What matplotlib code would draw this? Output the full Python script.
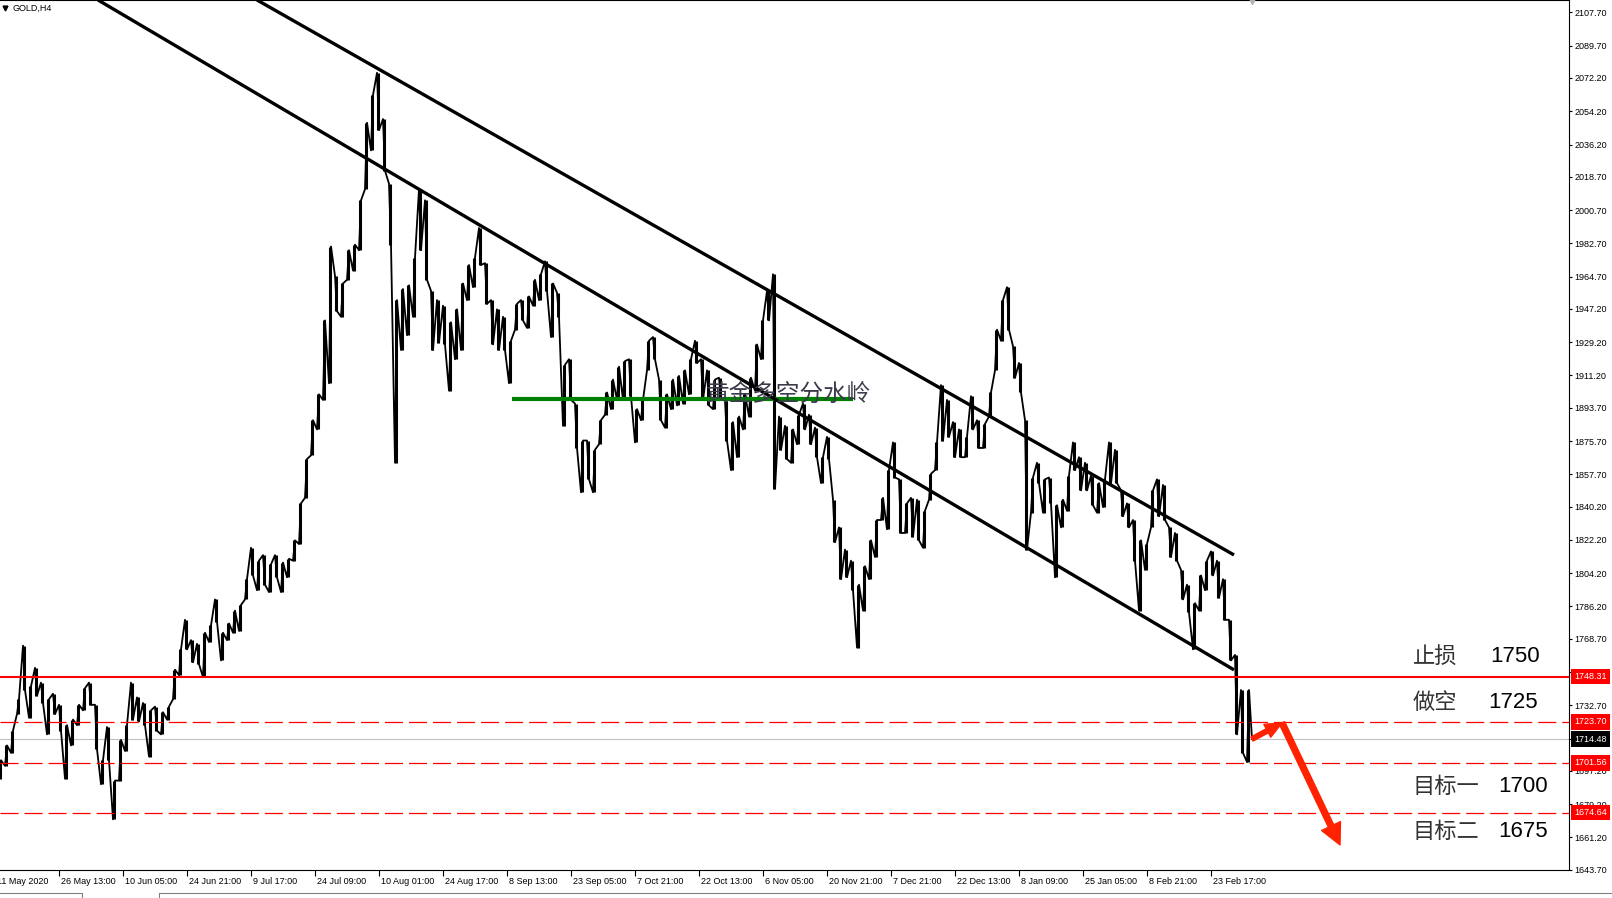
import numpy as np
import matplotlib.pyplot as plt
import matplotlib.transforms as mtransforms
from matplotlib.lines import Line2D
from matplotlib.patches import FancyArrowPatch

plt.rcParams['font.family'] = ['Liberation Sans', 'Noto Sans CJK SC', 'DejaVu Sans']
plt.rcParams['lines.scale_dashes'] = False

# GOLD, H4 - one sample per trading day (6 four-hour bars), high / low
BARS_PER_SAMPLE = 6
highs = [1703, 1711, 1719, 1736, 1765, 1743, 1753, 1745, 1736, 1739,
         1733, 1722, 1725, 1733, 1742, 1745, 1733, 1703, 1721, 1692,
         1714, 1722, 1745, 1737, 1734, 1730, 1732, 1729, 1732, 1752,
         1763, 1779, 1768, 1766, 1772, 1776, 1790, 1772, 1777, 1784,
         1787, 1801, 1818, 1811, 1814, 1809, 1814, 1810, 1812, 1822,
         1842, 1866, 1887, 1901, 1941, 1981, 1965, 1961, 1979, 1982,
         2006, 2048, 2063, 2075, 2050, 2015, 1952, 1958, 1960, 1975,
         2012, 2006, 1957, 1952, 1949, 1940, 1947, 1961, 1971, 1975,
         1991, 1972, 1952, 1947, 1943, 1930, 1950, 1952, 1954, 1963,
         1966, 1973, 1961, 1956, 1917, 1920, 1896, 1876, 1876, 1871,
         1887, 1902, 1909, 1916, 1919, 1920, 1893, 1898, 1930, 1932,
         1909, 1901, 1909, 1911, 1914, 1920, 1930, 1920, 1914, 1909,
         1910, 1898, 1886, 1889, 1901, 1910, 1928, 1941, 1957, 1966,
         1889, 1884, 1882, 1890, 1896, 1890, 1883, 1867, 1878, 1844,
         1829, 1817, 1811, 1798, 1808, 1822, 1833, 1845, 1860, 1875,
         1855, 1842, 1845, 1844, 1838, 1858, 1875, 1906, 1898, 1886,
         1882, 1878, 1900, 1887, 1885, 1902, 1936, 1952, 1959, 1927,
         1918, 1887, 1856, 1864, 1855, 1856, 1841, 1844, 1857, 1875,
         1867, 1864, 1857, 1853, 1855, 1875, 1871, 1849, 1842, 1833,
         1822, 1820, 1849, 1855, 1852, 1829, 1826, 1806, 1798, 1788,
         1803, 1811, 1816, 1811, 1801, 1779, 1760, 1741, 1741]
lows = [1693, 1700, 1707, 1728, 1741, 1726, 1738, 1734, 1717, 1728,
        1719, 1693, 1711, 1722, 1730, 1733, 1709, 1690, 1703, 1671,
        1692, 1708, 1725, 1724, 1722, 1705, 1719, 1717, 1725, 1736,
        1749, 1763, 1756, 1755, 1748, 1767, 1778, 1757, 1768, 1772,
        1773, 1790, 1803, 1795, 1798, 1794, 1802, 1794, 1802, 1811,
        1820, 1845, 1868, 1882, 1898, 1907, 1946, 1943, 1963, 1968,
        1979, 2012, 2033, 2044, 2022, 1982, 1864, 1925, 1933, 1943,
        1979, 1963, 1925, 1929, 1928, 1903, 1920, 1925, 1952, 1959,
        1971, 1950, 1928, 1925, 1925, 1907, 1936, 1941, 1937, 1949,
        1952, 1957, 1932, 1943, 1884, 1898, 1872, 1848, 1855, 1848,
        1874, 1890, 1893, 1898, 1898, 1900, 1875, 1887, 1914, 1920,
        1887, 1883, 1893, 1895, 1896, 1901, 1918, 1898, 1895, 1893,
        1898, 1876, 1860, 1867, 1882, 1889, 1903, 1920, 1941, 1850,
        1871, 1866, 1864, 1874, 1882, 1874, 1867, 1853, 1866, 1821,
        1801, 1802, 1795, 1764, 1784, 1801, 1813, 1833, 1828, 1856,
        1826, 1826, 1824, 1822, 1818, 1844, 1860, 1876, 1878, 1867,
        1867, 1867, 1882, 1872, 1872, 1889, 1914, 1930, 1936, 1910,
        1902, 1817, 1837, 1853, 1837, 1842, 1802, 1829, 1838, 1860,
        1849, 1849, 1841, 1837, 1840, 1853, 1853, 1835, 1829, 1811,
        1784, 1806, 1829, 1835, 1833, 1813, 1811, 1790, 1783, 1763,
        1784, 1795, 1803, 1791, 1779, 1757, 1717, 1707, 1702]
last_bar = 1252
last_close = 1714.48

date_labels = ['11 May 2020', '26 May 13:00', '10 Jun 05:00', '24 Jun 21:00', '9 Jul 17:00',
               '24 Jul 09:00', '10 Aug 01:00', '24 Aug 17:00', '8 Sep 13:00', '23 Sep 05:00',
               '7 Oct 21:00', '22 Oct 13:00', '6 Nov 05:00', '20 Nov 21:00', '7 Dec 21:00',
               '22 Dec 13:00', '8 Jan 09:00', '25 Jan 05:00', '8 Feb 21:00', '23 Feb 17:00']
LABEL_STEP = 64
FIRST_LABEL_BAR = -5

price_ticks = [2107.70, 2089.70, 2072.20, 2054.20, 2036.20, 2018.70, 2000.70, 1982.70,
               1964.70, 1947.20, 1929.20, 1911.20, 1893.70, 1875.70, 1857.70, 1840.20,
               1822.20, 1804.20, 1786.20, 1768.70, 1750.70, 1732.70, 1714.70, 1697.20,
               1679.20, 1661.20, 1643.70]
hidden_ticks = [1750.70, 1714.70]   # covered by the price tags

stop_loss = 1748.31
entry = 1723.70
target1 = 1701.56
target2 = 1674.64
watershed = 1898.4
watershed_bars = (512, 853)

channel_lower = ([98, 1234], [2114.4, 1751.9])
channel_upper = ([257, 1234], [2114.4, 1814.1])

arrow_bars = [1252, 1282, 1340]
arrow_prices = [1714.48, 1723.2, 1657.2]

notes = [('止损', '1750', 1759.0, 1490), ('做空', '1725', 1734.0, 1488),
         ('目标一', '1700', 1688.6, 1498), ('目标二', '1675', 1664.2, 1498)]

W, H = 1612, 898
fig = plt.figure(figsize=(W / 100, H / 100), dpi=100)
ax = fig.add_axes([0, 28 / H, 1569 / W, 870 / H])
ax.set_xlim(0, 1569)
ax.set_ylim(1643.6, 2114.4)

# price trace: daily range bars joined by a zigzag
xs = np.arange(len(highs)) * BARS_PER_SAMPLE
mid = (np.array(highs) + np.array(lows)) / 2
px, py = [], []
for i in range(len(highs)):
    going_up = i == len(highs) - 1 or mid[i + 1] >= mid[i]
    px += [xs[i] - 1, xs[i] + 1]
    py += [lows[i], highs[i]] if going_up else [highs[i], lows[i]]
px.append(last_bar)
py.append(last_close)
ax.vlines(xs, lows, highs, color='black', lw=2.2, zorder=2)
ax.plot(px, py, color='black', lw=1.3, zorder=2)

# levels
ax.axhline(last_close, color='#c0c0c0', lw=0.8, zorder=1)
ax.axhline(stop_loss, color='#ff0000', lw=1.5, zorder=3)
for lvl in (entry, target1, target2):
    ax.axhline(lvl, color='#ff0000', lw=0.9, dashes=(13, 4.3), zorder=3)
ax.plot(watershed_bars, [watershed, watershed], color='#008000', lw=3, zorder=3,
        solid_capstyle='butt')

# channel
ax.plot(*channel_lower, color='black', lw=2.4, zorder=4, solid_capstyle='butt')
ax.plot(*channel_upper, color='black', lw=2.4, zorder=4, solid_capstyle='butt')

ax.text(706, 1901, '黄金多空分水岭', fontsize=17, color='#3a3a4a', va='center',
        family=['Noto Sans CJK SC'], fontweight='light', zorder=5)

for cjk, num, y, xnum in notes:
    ax.text(1413, y, cjk, fontsize=16, color='#333333', va='center',
            family=['Noto Sans CJK SC'], fontweight='light', zorder=5)
    ax.text(xnum, y, num, fontsize=16, color='black', va='center', zorder=5)

# red arrows
arrow_col = '#ff2200'
a1 = FancyArrowPatch((arrow_bars[0], arrow_prices[0]), (arrow_bars[1], arrow_prices[1]),
                     arrowstyle='simple,head_length=0.8,head_width=0.7,tail_width=0.22',
                     mutation_scale=15, color=arrow_col, shrinkA=0, shrinkB=0, zorder=6)
a2 = FancyArrowPatch((arrow_bars[1], arrow_prices[1]), (arrow_bars[2], arrow_prices[2]),
                     arrowstyle='simple,head_length=1.0,head_width=1.0,tail_width=0.28',
                     mutation_scale=15, color=arrow_col, shrinkA=0, shrinkB=0, zorder=6)
ax.add_patch(a1)
ax.add_patch(a2)

# axes styling (MT4 look)
for side in ('top', 'right', 'bottom'):
    ax.spines[side].set_linewidth(0.8)
    ax.spines[side].set_color('black')
ax.spines['left'].set_visible(False)

ax.yaxis.tick_right()
ax.set_yticks(price_ticks)
ax.set_yticklabels(['' if v in hidden_ticks else '%.2f' % v for v in price_ticks])
ax.tick_params(axis='y', direction='out', length=2.5, width=0.8, pad=1.5, labelsize=6.5)

tick_bars = [FIRST_LABEL_BAR + LABEL_STEP * k for k in range(len(date_labels))]
ax.set_xticks([b for b in tick_bars if b >= 0])
ax.set_xticklabels([])
ax.tick_params(axis='x', direction='out', length=4, width=0.8)
for b, lab in zip(tick_bars, date_labels):
    ax.annotate(lab, xy=(b, 0), xycoords=('data', 'axes fraction'), xytext=(2, -11),
                textcoords='offset pixels', ha='left', va='center', fontsize=6.5,
                annotation_clip=False)

# price tags on the scale
blend = mtransforms.blended_transform_factory(ax.transAxes, ax.transData)
for v, fc in ((stop_loss, '#ff0000'), (entry, '#ff0000'), (last_close, 'black'),
              (target1, '#ff0000'), (target2, '#ff0000')):
    ax.text(1.0035, v, '%.2f' % v, transform=blend, ha='left', va='center', fontsize=6.5,
            color='white', clip_on=False, zorder=7,
            bbox=dict(boxstyle='square,pad=0.35', fc=fc, ec='none'))

# header and chart-shift marker
ax.text(13 / 1569, 1 - 8 / 870, 'GOLD,H4', transform=ax.transAxes, fontsize=6.5,
        va='center', ha='left')
ax.plot([5 / 1569], [1 - 8 / 870], marker='v', color='black', markersize=3.5,
        transform=ax.transAxes, clip_on=False)
ax.plot([last_bar], [2114.4], marker='v', color='#b0b0b0', markersize=6,
        clip_on=False, zorder=8)

# tab strip at the bottom of the window
tab_y = 1 - 893 / H
fig.add_artist(Line2D([0, 82 / W, 82 / W], [tab_y, tab_y, 0], color='#808080', lw=0.8))
fig.add_artist(Line2D([159 / W, 159 / W, 1], [0, tab_y, tab_y], color='#808080', lw=0.8))

fig.savefig('out.png', dpi=100)
